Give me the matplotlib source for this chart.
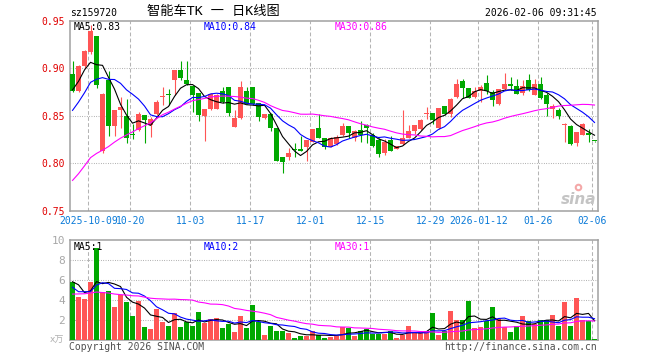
import matplotlib
matplotlib.use('Agg')
import matplotlib.pyplot as plt
import numpy as np
import pandas as pd

plt.rcParams['font.family'] = ['DejaVu Sans Mono', 'Noto Sans CJK SC']

W, H = 660, 360
RED = '#ff5555'
GREEN = '#00a800'
BLUE_TXT = '#0a7ad8'

# date ticks (index of the trading day, label)
tick_idx = [3, 10, 20, 30, 40, 50, 60, 68, 78, 87]
tick_lbl = ['2025-10-09', '10-20', '11-03', '11-17', '12-01', '12-15',
            '12-29', '2026-01-12', '01-26', '02-06']

opens = [0.8937, 0.876, 0.9024, 0.9174, 0.9334, 0.813, 0.8878, 0.8387, 0.856, 0.8499,
         0.831, 0.8346, 0.8506, 0.840, 0.8513, 0.8700, 0.8722, 0.8875, 0.8979, 0.8878,
         0.8809, 0.8739, 0.8495, 0.8565, 0.8575, 0.8763, 0.8798, 0.838, 0.8478, 0.8763,
         0.8798, 0.8635, 0.8478, 0.852, 0.8367, 0.806, 0.806, 0.8143, 0.8154, 0.8165,
         0.8227, 0.8374, 0.8262, 0.8165, 0.820, 0.8297, 0.8391, 0.8269, 0.8349, 0.8401,
         0.830, 0.8241, 0.8112, 0.8241, 0.8154, 0.820, 0.8269, 0.8339, 0.8356, 0.8520,
         0.853, 0.8367, 0.860, 0.8513, 0.8694, 0.8861, 0.8791, 0.8694, 0.8763, 0.8843,
         0.875, 0.8624, 0.8784, 0.8833, 0.8809, 0.8736, 0.8871, 0.8722, 0.8833, 0.8715,
         0.8565, 0.8562, 0.8401, 0.8391, 0.8217, 0.830, 0.8321, 0.8235]
highs = [0.9077, 0.9035, 0.919, 0.945, 0.9334, 0.874, 0.897, 0.8562, 0.8694, 0.867,
         0.8415, 0.854, 0.8506, 0.849, 0.8666, 0.8798, 0.8777, 0.8979, 0.907, 0.9076,
         0.8809, 0.8739, 0.8565, 0.874, 0.8729, 0.8798, 0.8798, 0.8555, 0.8868, 0.8798,
         0.8798, 0.8635, 0.8513, 0.853, 0.8367, 0.806, 0.8157, 0.8217, 0.8287, 0.8241,
         0.8356, 0.8513, 0.8262, 0.828, 0.8297, 0.8426, 0.8391, 0.8346, 0.8443, 0.8415,
         0.8318, 0.8262, 0.8252, 0.8287, 0.8182, 0.8555, 0.8401, 0.8401, 0.846, 0.8589,
         0.853, 0.8583, 0.860, 0.8687, 0.8885, 0.8889, 0.8791, 0.8798, 0.8826, 0.8924,
         0.8774, 0.8784, 0.8948, 0.8903, 0.8889, 0.8878, 0.8938, 0.8882, 0.8903, 0.874,
         0.8624, 0.8583, 0.8426, 0.8401, 0.8332, 0.8422, 0.8356, 0.8235]
lows = [0.875, 0.875, 0.900, 0.915, 0.879, 0.811, 0.8287, 0.8287, 0.8373, 0.8207,
        0.825, 0.834, 0.8207, 0.828, 0.8506, 0.861, 0.861, 0.872, 0.8875, 0.8826,
        0.854, 0.8443, 0.8234, 0.8555, 0.8565, 0.8635, 0.8495, 0.838, 0.847, 0.8624,
        0.8617, 0.8443, 0.847, 0.834, 0.802, 0.7892, 0.8033, 0.806, 0.813, 0.8018,
        0.8227, 0.8262, 0.815, 0.8165, 0.8193, 0.8287, 0.8269, 0.8235, 0.8227, 0.8217,
        0.8172, 0.806, 0.8088, 0.8123, 0.8147, 0.8193, 0.8262, 0.8311, 0.8349, 0.846,
        0.8408, 0.8363, 0.8506, 0.8485, 0.8687, 0.8687, 0.8687, 0.8687, 0.8645, 0.8729,
        0.8601, 0.8617, 0.8774, 0.8774, 0.8729, 0.8722, 0.8764, 0.8715, 0.868, 0.8495,
        0.8478, 0.846, 0.8227, 0.8193, 0.8182, 0.8293, 0.8227, 0.8218]
closes = [0.8763, 0.9024, 0.918, 0.9388, 0.8826, 0.8729, 0.839, 0.8562, 0.859, 0.8262,
          0.830, 0.8513, 0.845, 0.8464, 0.8645, 0.8708, 0.8715, 0.8979, 0.8896, 0.8830,
          0.8715, 0.8502, 0.8565, 0.8729, 0.8722, 0.8645, 0.853, 0.8478, 0.8798, 0.8624,
          0.8624, 0.8488, 0.8513, 0.8367, 0.8026, 0.8008, 0.8102, 0.8136, 0.813, 0.8241,
          0.8356, 0.8262, 0.8165, 0.827, 0.828, 0.8391, 0.8314, 0.8339, 0.8297, 0.8367,
          0.8182, 0.8095, 0.8227, 0.813, 0.8182, 0.8269, 0.8339, 0.8401, 0.845, 0.8527,
          0.845, 0.8576, 0.8513, 0.868, 0.8833, 0.8791, 0.8687, 0.8763, 0.8798, 0.8763,
          0.866, 0.8784, 0.8833, 0.8815, 0.8729, 0.8809, 0.8774, 0.8833, 0.8687, 0.8624,
          0.860, 0.8492, 0.8408, 0.820, 0.8332, 0.8412, 0.8297, 0.8230]
volumes = [5.83, 4.27, 4.1, 5.8, 9.17, 4.83, 4.9, 3.3, 4.53, 3.8,
           2.4, 3.93, 1.3, 1.1, 3.13, 1.83, 1.4, 2.7, 1.3, 1.8,
           1.4, 2.8, 1.73, 2.07, 2.2, 1.2, 1.6, 0.8, 2.4, 1.2,
           3.5, 1.8, 0.5, 1.4, 0.9, 0.9, 0.7, 0.2, 0.4, 0.4,
           0.9, 0.5, 0.2, 0.3, 0.4, 1.3, 1.2, 0.4, 0.9, 1.1,
           0.6, 0.6, 0.6, 0.9, 0.2, 0.5, 1.4, 0.7, 0.7, 0.9,
           2.7, 0.5, 0.9, 2.9, 2.0, 2.0, 3.9, 1.2, 1.3, 1.9,
           3.3, 2.1, 1.3, 0.8, 1.4, 2.4, 1.9, 1.6, 2.0, 2.0,
           2.5, 1.4, 3.8, 1.4, 4.2, 2.0, 1.9, 0.1]

# closes / volumes of the 29 days before the window, estimated from where the MA lines start
prior_close = [0.69, 0.67, 0.68, 0.75, 0.77, 0.725, 0.715, 0.735, 0.725, 0.735,
               0.745, 0.755, 0.755, 0.735, 0.745, 0.79, 0.80, 0.80, 0.79, 0.79,
               0.815, 0.82, 0.829, 0.85, 0.856, 0.857, 0.858, 0.899, 0.895]
prior_vol = [3.8, 3.6, 3.7, 6.0, 6.5, 6.2, 6.4, 6.3, 5.0, 4.6,
             4.5, 4.8, 4.4, 4.6, 2.5, 2.3, 2.4, 2.6, 2.3, 2.5,
             8.7, 4.1, 5.8, 2.5, 2.5, 5.8, 8.0, 4.9, 4.6]

x = np.arange(len(closes))
o = np.array(opens)
c = np.array(closes)
colors = np.where(c >= o, RED, GREEN)

cs = pd.Series(prior_close + closes)
vs = pd.Series(prior_vol + volumes)
n0 = len(prior_close)
ma = {n: cs.rolling(n).mean().to_numpy()[n0:] for n in (5, 10, 30)}
vma = {n: vs.rolling(n).mean().to_numpy()[n0:] for n in (5, 10, 30)}
ma_col = {5: 'black', 10: '#0000ff', 30: '#ff00ff'}


def fx(px):
    return px / W


def fy(py):
    return 1 - py / H


fig = plt.figure(figsize=(6.6, 3.6), dpi=100)
ax1 = fig.add_axes([fx(70), fy(210.7), 527.7 / W, 190.1 / H])
ax2 = fig.add_axes([fx(70), fy(340), 527.7 / W, 100 / H])

for ax in (ax1, ax2):
    ax.set_xlim(-0.42, 87.53)
    for i in tick_idx:
        ax.axvline(i - 0.37, color='#b4b4b4', lw=0.75, ls=(0, (3.6, 2.2)), zorder=0)
    for s in ax.spines.values():
        s.set_color('#a0a0a0')
        s.set_linewidth(1.1)

# price panel
ax1.set_ylim(0.75, 0.95)
for v in (0.80, 0.85, 0.90):
    ax1.axhline(v, color='#a0a0a0', lw=0.75, ls=(0, (0.75, 1.5)), zorder=0)
ax1.vlines(x, lows, highs, colors=colors, lw=0.8, zorder=2)
body = np.maximum(np.abs(c - o), 0.0011)
ax1.bar(x, body, bottom=np.minimum(o, c), width=0.8, color=colors, lw=0, zorder=3)
for n in (5, 10, 30):
    ax1.plot(x, ma[n], color=ma_col[n], lw=0.8, zorder=4)
ax1.set_yticks([0.75, 0.80, 0.85, 0.90, 0.95])
ax1.set_yticklabels(['%.2f' % v for v in [0.75, 0.80, 0.85, 0.90, 0.95]])
ax1.tick_params(axis='y', length=0, pad=3.5, labelsize=7, labelcolor='#e00000')
ax1.set_xticks([i - 0.37 for i in tick_idx])
ax1.set_xticklabels(tick_lbl)
ax1.tick_params(axis='x', length=0, pad=4, labelsize=7, labelcolor=BLUE_TXT)

# sina watermark
ax1.text(0.997, 0.02, 'sina', transform=ax1.transAxes, ha='right', va='bottom',
         fontsize=11, style='italic', weight='bold', color='#c4c4c4', family='DejaVu Sans')
ax1.scatter([0.962], [0.125], transform=ax1.transAxes, s=30, color='#f4a8a8', lw=0, zorder=5)
ax1.scatter([0.962], [0.125], transform=ax1.transAxes, s=6, color='white', lw=0, zorder=6)

# volume panel
ax2.set_ylim(0, 10)
for v in (2, 4, 6, 8):
    ax2.axhline(v, color='#a0a0a0', lw=0.75, ls=(0, (0.75, 1.5)), zorder=0)
ax2.bar(x, volumes, width=0.8, color=colors, lw=0, zorder=3)
for n in (5, 10, 30):
    ax2.plot(x, vma[n], color=ma_col[n], lw=0.8, zorder=4)
ax2.set_yticks([2, 4, 6, 8, 10])
ax2.tick_params(axis='y', length=0, pad=3.5, labelsize=8, labelcolor='#a8a8a8')
ax2.set_xticks([])

# texts
mono = 'DejaVu Sans Mono'
fig.text(fx(213), fy(12), '智能车TK 一 日K线图', ha='center', va='center', fontsize=9.5,
         family=['DejaVu Sans Mono', 'Noto Sans CJK SC'])
fig.text(fx(70), fy(12.5), 'sz159720', ha='left', va='center', fontsize=7, family=mono)
fig.text(fx(597), fy(12.5), '2026-02-06 09:31:45', ha='right', va='center', fontsize=7, family=mono)
fig.text(fx(74), fy(26.5), 'MA5:0.83', ha='left', va='center', fontsize=7, family=mono, color='black')
fig.text(fx(204), fy(26.5), 'MA10:0.84', ha='left', va='center', fontsize=7, family=mono, color='#0000ff')
fig.text(fx(334.5), fy(26.5), 'MA30:0.86', ha='left', va='center', fontsize=7, family=mono, color='#ff00ff')
fig.text(fx(74), fy(246.5), 'MA5:1', ha='left', va='center', fontsize=7, family=mono, color='black')
fig.text(fx(204), fy(246.5), 'MA10:2', ha='left', va='center', fontsize=7, family=mono, color='#0000ff')
fig.text(fx(334.5), fy(246.5), 'MA30:1', ha='left', va='center', fontsize=7, family=mono, color='#ff00ff')
fig.text(fx(69), fy(346.5), 'Copyright 2026 SINA.COM', ha='left', va='center', fontsize=7,
         family=mono, color='#505050')
fig.text(fx(597), fy(346.5), 'http://finance.sina.com.cn', ha='right', va='center', fontsize=7,
         family=mono, color='#505050')
fig.text(fx(50), fy(340), 'x万', ha='left', va='center', fontsize=6.5,
         family=['DejaVu Sans', 'Noto Sans CJK SC'], color='#b0b0b0')

fig.savefig('out.png', dpi=100)
